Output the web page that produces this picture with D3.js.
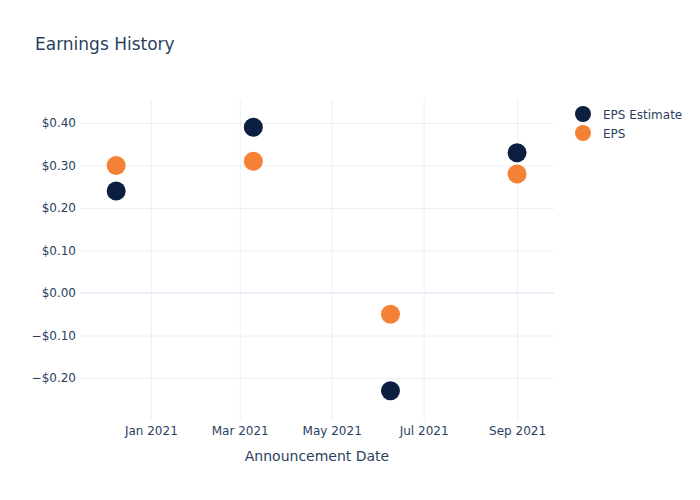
<!DOCTYPE html>
<html>
<head>
<meta charset="utf-8">
<script src="https://cdn.jsdelivr.net/npm/d3@7"></script>
<style>
  body { margin: 0; background: #fff; }
  svg text { font-family: "DejaVu Sans", "Open Sans", sans-serif; fill: #2a3f5f; }
  .grid line { stroke: #ebf0f8; stroke-width: 1; }
  .grid path { display: none; }
  .axis path, .axis line { display: none; }
</style>
</head>
<body>
<svg id="chart" width="700" height="500"></svg>
<script>
const dates = ['2020-12-09', '2021-03-10', '2021-06-09', '2021-09-01'];
const epsEstimate = [0.24, 0.39, -0.23, 0.33];
const eps = [0.30, 0.31, -0.05, 0.28];
const yTicks = [-0.2, -0.1, 0, 0.1, 0.2, 0.3, 0.4];
const xTicks = ['2021-01-01', '2021-03-01', '2021-05-01', '2021-07-01', '2021-09-01'];
const seriesNames = ['EPS Estimate', 'EPS'];
const seriesColors = ['#0c1f40', '#f58137'];

const parse = d3.timeParse('%Y-%m-%d');
const svg = d3.select('#chart');

const margin = { left: 80, right: 146, top: 100, bottom: 80 };
const width = 700 - margin.left - margin.right;
const height = 500 - margin.top - margin.bottom;

const chart = svg.append('g')
  .attr('transform', `translate(${margin.left}, ${margin.top})`);

const xScale = d3.scaleTime()
  .domain([new Date(2020, 10, 15, 0), new Date(2021, 8, 25, 12)])
  .range([0, width]);

const yScale = d3.scaleLinear()
  .domain([-0.2988, 0.4541])
  .range([height, 0]);

// grid lines
chart.append('g')
  .attr('class', 'grid')
  .call(d3.axisBottom(xScale)
    .tickValues(xTicks.map(parse))
    .tickSize(height)
    .tickFormat(''));

chart.append('g')
  .attr('class', 'grid')
  .call(d3.axisLeft(yScale)
    .tickValues(yTicks.filter((t) => t !== 0))
    .tickSize(-width)
    .tickFormat(''));

// zero line
chart.append('line')
  .attr('x1', 0)
  .attr('x2', width)
  .attr('y1', yScale(0))
  .attr('y2', yScale(0))
  .attr('stroke', '#ebf0f8')
  .attr('stroke-width', 2);

const fmtMoney = (d) => (d < 0 ? '\u2212' : '') + '$' + Math.abs(d).toFixed(2);

const xAxis = chart.append('g')
  .attr('class', 'axis')
  .attr('transform', `translate(0, ${height})`)
  .call(d3.axisBottom(xScale)
    .tickValues(xTicks.map(parse))
    .tickFormat(d3.timeFormat('%b %Y'))
    .tickSize(0)
    .tickPadding(6));
xAxis.selectAll('text').attr('font-size', 12).attr('fill', '#2a3f5f');

const yAxis = chart.append('g')
  .attr('class', 'axis')
  .call(d3.axisLeft(yScale)
    .tickValues(yTicks)
    .tickFormat(fmtMoney)
    .tickSize(0)
    .tickPadding(4));
yAxis.selectAll('text').attr('font-size', 12).attr('fill', '#2a3f5f');

// points
const series = [epsEstimate, eps];
series.forEach((values, si) => {
  chart.append('g')
    .selectAll('circle')
    .data(values)
    .enter()
    .append('circle')
    .attr('cx', (v, i) => xScale(parse(dates[i])))
    .attr('cy', (v) => yScale(v))
    .attr('r', 9.5)
    .attr('fill', seriesColors[si]);
});

// legend
const legend = svg.append('g')
  .attr('transform', 'translate(583, 114)');
seriesNames.forEach((name, i) => {
  const row = legend.append('g').attr('transform', `translate(0, ${i * 19})`);
  row.append('circle').attr('r', 8).attr('fill', seriesColors[i]);
  row.append('text')
    .attr('x', 20)
    .attr('y', 4.5)
    .attr('font-size', 12)
    .text(name);
});

// titles
svg.append('text')
  .attr('x', 35)
  .attr('y', 50)
  .attr('font-size', 17)
  .text('Earnings History');

svg.append('text')
  .attr('x', margin.left + width / 2)
  .attr('y', 461)
  .attr('text-anchor', 'middle')
  .attr('font-size', 14)
  .text('Announcement Date');
</script>
</body>
</html>
